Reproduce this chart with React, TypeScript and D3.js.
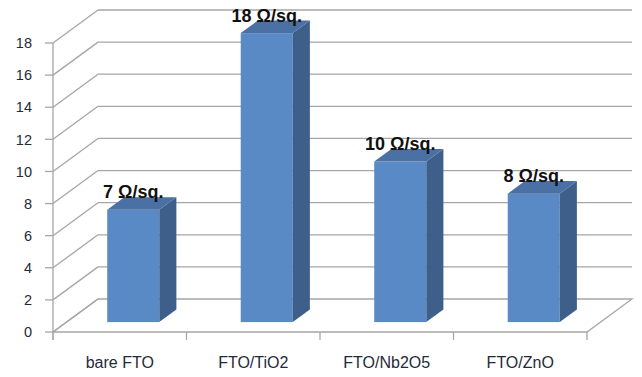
import React from "react";
import * as d3 from "d3";

// Sheet resistance of each substrate (Ω/sq.)
const categories = ["bare FTO", "FTO/TiO2", "FTO/Nb2O5", "FTO/ZnO"];
const resistance = [7, 18, 10, 8];
const yTicks = [0, 2, 4, 6, 8, 10, 12, 14, 16, 18];
const unitLabel = "Ω/sq.";

const W = 642;
const H = 377;

// Front plane of the plot box
const left = 53;
const right = 587;
const bottom = 332;
const top = 43;
// Full depth of the box (towards back-right)
const depth = { dx: 45, dy: -33 };
// Bars sit partway into the box
const barFront = 0.3;
const barDepth = 0.38;
const barWidthFrac = 0.39;

const frontColor = "#5a8ac6";
const sideColor = "#3e5f8a";
const topColor = "#4a70a4";
const gridColor = "#a6a6a6";

export default function App() {
  const x = d3.scaleBand<string>().domain(categories).range([left, right]).padding(0);
  const y = d3.scaleLinear().domain([0, 18]).range([bottom, top]);

  const bw = x.bandwidth() * barWidthFrac;
  const fx = depth.dx * barFront;
  const fy = depth.dy * barFront;
  const sx = depth.dx * barDepth;
  const sy = depth.dy * barDepth;

  const poly = (pts: [number, number][]) => d3.line()(pts.concat([pts[0]])) as string;

  return (
    <svg
      width={W}
      height={H}
      style={{ position: "absolute", left: 0, top: 0, background: "#fff" }}
      fontFamily="'Liberation Sans', Arial, sans-serif"
    >
      {/* side wall and back wall gridlines */}
      {yTicks.map((t) => (
        <g key={"g" + t} stroke={gridColor} strokeWidth={1.3} fill="none">
          <line x1={left} y1={y(t)} x2={left + depth.dx} y2={y(t) + depth.dy} />
          {t > 0 && (
            <line x1={left + depth.dx} y1={y(t) + depth.dy} x2={right + depth.dx} y2={y(t) + depth.dy} />
          )}
        </g>
      ))}
      {/* floor */}
      <path
        d={poly([
          [left, bottom],
          [right, bottom],
          [right + depth.dx, bottom + depth.dy],
          [left + depth.dx, bottom + depth.dy],
        ])}
        fill="none"
        stroke={gridColor}
        strokeWidth={1.3}
      />
      {/* value axis */}
      <line x1={left} y1={top} x2={left} y2={bottom + 8} stroke={gridColor} strokeWidth={1.3} />
      {yTicks.map((t) => (
        <g key={"t" + t}>
          <line x1={left - 8} y1={y(t)} x2={left} y2={y(t)} stroke={gridColor} strokeWidth={1.3} />
          <text x={32} y={y(t)} dy="0.36em" textAnchor="end" fontSize={14.5} fill="#1f2a3a">
            {t}
          </text>
        </g>
      ))}
      {/* category axis ticks */}
      {categories.concat(["__end"]).map((c, i) => {
        const xx = i < categories.length ? (x(c) as number) : right;
        return (
          <line key={"c" + i} x1={xx} y1={bottom} x2={xx} y2={bottom + 8} stroke={gridColor} strokeWidth={1.3} />
        );
      })}
      {categories.map((c) => (
        <text
          key={"l" + c}
          x={(x(c) as number) + x.bandwidth() / 2}
          y={368}
          textAnchor="middle"
          fontSize={16}
          fill="#1f2a3a"
        >
          {c}
        </text>
      ))}
      {/* bars */}
      {categories.map((c, i) => {
        const v = resistance[i];
        const x0 = (x(c) as number) + (x.bandwidth() - bw) / 2 + fx;
        const x1 = x0 + bw;
        const yb = y(0) + fy;
        const yt = y(v) + fy;
        return (
          <g key={"b" + c}>
            <rect x={x0} y={yt} width={bw} height={yb - yt} fill={frontColor} />
            <path
              d={poly([
                [x1, yt],
                [x1 + sx, yt + sy],
                [x1 + sx, yb + sy],
                [x1, yb],
              ])}
              fill={sideColor}
            />
            <path
              d={poly([
                [x0, yt],
                [x0 + sx, yt + sy],
                [x1 + sx, yt + sy],
                [x1, yt],
              ])}
              fill={topColor}
            />
            <text
              x={(x0 + x1) / 2}
              y={yt + sy + 1}
              textAnchor="middle"
              fontSize={18}
              fontWeight="bold"
              fill="#111"
            >
              {`${v} ${unitLabel}`}
            </text>
          </g>
        );
      })}
    </svg>
  );
}
